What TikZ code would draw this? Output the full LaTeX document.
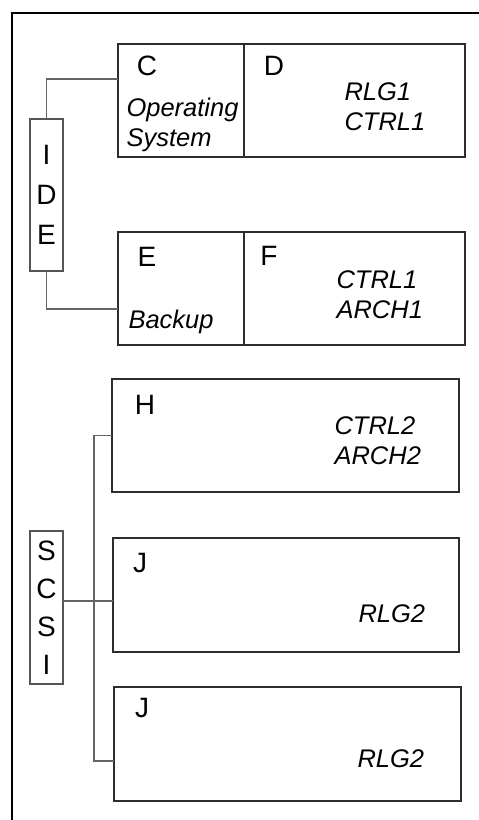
\documentclass[tikz,border=0pt]{standalone}
\usepackage{fontspec}
\setmainfont{Liberation Sans}
\usepackage{xcolor}
\definecolor{dkgray}{RGB}{45,45,45}
\definecolor{wiregray}{RGB}{100,100,100}
\definecolor{busgray}{RGB}{85,85,85}
\usetikzlibrary{positioning}

\begin{document}
\begin{tikzpicture}[x=1pt, y=-1pt,
  part/.style={draw=dkgray, line width=1.8pt, inner sep=0pt, outer sep=0pt,
    minimum height=113pt, anchor=north west},
  busbox/.style={draw=busgray, line width=1.3pt, inner sep=0pt, outer sep=0pt,
    minimum width=33pt, anchor=north west, align=center},
  letter/.style={font=\fontsize{28}{30}\selectfont},
  tag/.style={font=\fontsize{25.5}{30}\selectfont\itshape, align=left, anchor=west},
  wire/.style={wiregray, line width=1.2pt}]
  \useasboundingbox (0,0) rectangle (479,820);
  % Outer frame (only top and left edge show)
  \draw[black, line width=2.2pt] (12,822) -- (12,13) -- (481,13);

  % --- IDE disks ---
  \node[part, minimum width=126pt] (partC) at (118,44) {};
  \node[part, minimum width=221pt] (partD) at (244,44) {};
  \node[part, minimum width=126pt] (partE) at (118,232) {};
  \node[part, minimum width=221pt] (partF) at (244,232) {};
  % Labels
  \node[letter] (labC) at (147,66) {C};
  \node[tag] (labOS) at (123,125) {Operating\\System};
  \node[letter] (labD) at (274,66) {D};
  \node[tag] (txtD) at (341,107) {RLG1\\CTRL1};
  \node[letter] (labE) at (147,257) {E};
  \node[tag, anchor=base west] (labBk) at (125,328) {Backup};
  \node[letter] (labF) at (269,256) {F};
  \node[tag] (txtF) at (333,295) {CTRL1\\ARCH1};
  % IDE bus
  \node[busbox, minimum height=152pt, font=\fontsize{28}{40}\selectfont] (ide) at (30,119) {I\\D\\E};
  \draw[wire] (ide.north) |- ([yshift=21.5pt]partC.west);
  \draw[wire] (ide.south) |- ([yshift=-20.5pt]partE.west);

  % --- SCSI disks ---
  \node[part, minimum width=347pt] (diskH) at (112,379) {};
  \node[part, minimum width=346pt, minimum height=114pt] (diskJa) at (113,538) {};
  \node[part, minimum width=347pt, minimum height=114pt] (diskJb) at (114,687) {};
  % Labels
  \node[letter] (labH) at (145,405) {H};
  \node[tag] (txtH) at (331,441) {CTRL2\\ARCH2};
  \node[letter] (labJa) at (140,563) {J};
  \node[tag] (txtJa) at (355,614) {RLG2};
  \node[letter] (labJb) at (142,708) {J};
  \node[tag] (txtJb) at (354,759) {RLG2};
  % SCSI bus
  \node[busbox, minimum height=153pt, font=\fontsize{28}{38}\selectfont] (scsi) at (30,531) {S\\C\\S\\I};
  \coordinate (bus) at (94,601);
  \draw[wire] (scsi.east |- bus) -- (bus -| diskJa.west);
  \draw[wire] (diskH.west) -| (bus) |- ([yshift=-17pt]diskJb.west);
\end{tikzpicture}
\end{document}
